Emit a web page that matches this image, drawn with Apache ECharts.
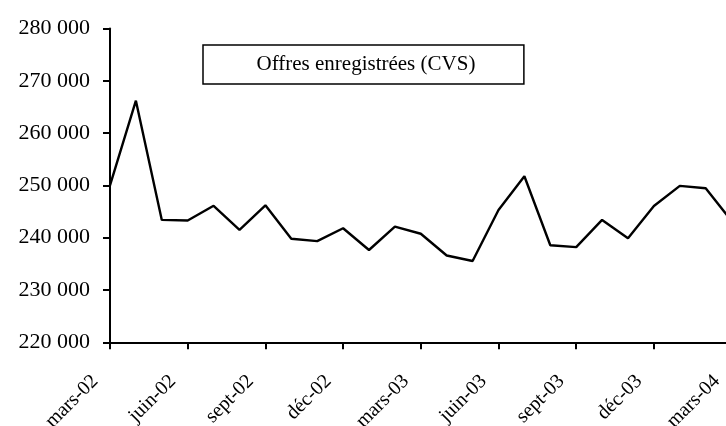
<!DOCTYPE html>
<html>
<head>
<meta charset="utf-8">
<script src="https://cdn.jsdelivr.net/npm/echarts@6/dist/echarts.min.js"></script>
<style>
  html, body { margin: 0; padding: 0; background: #fff; overflow: hidden; }
  /* la dernière date tombe juste après le bord droit : le tracé est coupé */
  #chart { width: 732px; height: 426px; }
</style>
</head>
<body>
<div id="chart"></div>
<script>
// mois de mars-02 à mars-04
const months = [
  'mars-02', 'avr-02', 'mai-02', 'juin-02', 'juil-02', 'août-02', 'sept-02', 'oct-02', 'nov-02', 'déc-02',
  'janv-03', 'févr-03', 'mars-03', 'avr-03', 'mai-03', 'juin-03', 'juil-03', 'août-03', 'sept-03', 'oct-03',
  'nov-03', 'déc-03', 'janv-04', 'févr-04', 'mars-04'
]
// offres enregistrées (CVS)
const offres = [
  250000, 266200, 243400, 243300, 246100, 241500, 246200, 239800, 239350, 241800,
  237650, 242100, 240750, 236600, 235550, 245300, 251750, 238550, 238200, 243400,
  239900, 246050, 249900, 249450, 243200
]
const seriesName = 'Offres enregistrées (CVS)'
const yMin = 220000
const yMax = 280000
const yStep = 10000

const fontFamily = '"Liberation Serif", "Times New Roman", serif'
const fmt = v => String(v).replace(/\B(?=(\d{3})+(?!\d))/g, ' ')

const chart = echarts.init(document.getElementById('chart'))
chart.setOption({
  animation: false,
  backgroundColor: '#fff',
  textStyle: { fontFamily },
  grid: {
    left: 110,
    top: 28.5,
    right: 0.4,
    height: 313.8,
    containLabel: false,
    outerBoundsMode: 'none'
  },
  legend: {
    data: [seriesName],
    left: 203,
    top: 45,
    icon: 'none',
    itemWidth: 0,
    itemGap: 0,
    padding: [9, 48.5],
    borderColor: '#000',
    borderWidth: 1.5,
    textStyle: { fontFamily, fontSize: 21, color: '#000', padding: 0 }
  },
  xAxis: {
    type: 'category',
    data: months,
    boundaryGap: false,
    axisLine: { onZero: false, lineStyle: { color: '#000', width: 2 } },
    axisTick: { show: true, interval: 2, length: 7, lineStyle: { color: '#000', width: 2 } },
    axisLabel: {
      interval: 2,
      rotate: 45,
      margin: 21,
      padding: [0, 21, 0, 0],
      color: '#000',
      fontFamily,
      fontSize: 20
    },
    splitLine: { show: false }
  },
  yAxis: {
    type: 'value',
    min: yMin,
    max: yMax,
    interval: yStep,
    axisLine: { show: true, lineStyle: { color: '#000', width: 2 } },
    axisTick: { show: true, length: 7, lineStyle: { color: '#000', width: 2 } },
    axisLabel: {
      margin: 20,
      color: '#000',
      fontFamily,
      fontSize: 22,
      formatter: fmt
    },
    splitLine: { show: false }
  },
  series: [
    {
      name: seriesName,
      type: 'line',
      data: offres,
      symbol: 'none',
      lineStyle: { color: '#000', width: 2.4 },
      itemStyle: { color: '#000' }
    }
  ]
})
</script>
</body>
</html>
